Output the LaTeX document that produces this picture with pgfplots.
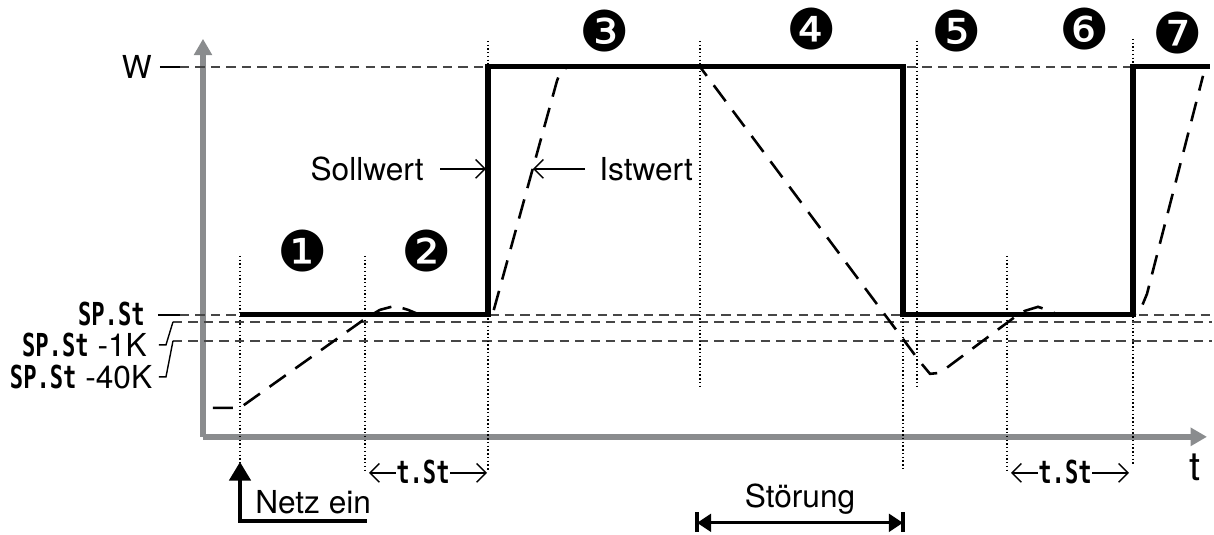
\documentclass[border=0pt]{standalone}
\usepackage{pgfplots}
\pgfplotsset{compat=1.18}
\usepackage{fontspec}
\setmainfont{TeX Gyre Heros}
\newfontfamily\dingfont{DejaVu Sans}
\newfontfamily\segfont{DejaVu Sans Mono}[FakeStretch=0.7]
\usetikzlibrary{arrows.meta}

\definecolor{axgray}{RGB}{138,140,142}
\definecolor{refgray}{RGB}{70,70,70}

\tikzset{
    lbl/.style={font=\fontsize{13.5}{16}\selectfont},
    seg/.style={font=\fontsize{13.5}{16}\selectfont},
    num/.style={font=\dingfont\fontsize{24}{26}\selectfont},
    dotv/.style={black, line width=0.5pt, dash pattern=on 0.6pt off 1pt},
    refl/.style={refgray, line width=0.75pt, dash pattern=on 4pt off 2.6pt},
    barb/.style={line width=0.6pt, -{Straight Barb[length=4pt,width=8pt]}},
}

\begin{document}
\begin{tikzpicture}
\begin{axis}[
    scale only axis, width=15.06cm, height=5.97cm,
    xmin=203, xmax=1207, ymin=98, ymax=496,
    axis lines*=left, ticks=none, clip=false,
    axis line style={axgray, line width=2.6pt, -{Triangle[length=7pt,width=7.5pt]}},
    every axis plot/.append style={mark=none},
]
% page size
\path (0,0) rectangle (1214,534);

% reference levels W, SP.St, SP.St-1K, SP.St-40K
\addplot[refl] coordinates {(180,468) (1133,468)};
\addplot[refl] coordinates {(180,220) (1212,220)};
\addplot[refl] coordinates {(173,213) (1212,213)};
\addplot[refl] coordinates {(173,194) (1212,194)};
% leaders
\addplot[black, line width=0.6pt] coordinates {(160,468) (180,468)};
\addplot[black, line width=0.6pt] coordinates {(158,220) (180,220)};
\addplot[black, line width=0.6pt] coordinates {(159,190) (166,190) (173,213)};
\addplot[black, line width=0.6pt] coordinates {(159,158) (166,158) (173,194)};

% phase boundaries
\addplot[dotv] coordinates {(240,279) (240,64)};
\addplot[dotv] coordinates {(365,279) (365,64)};
\addplot[dotv] coordinates {(488,494) (488,64)};
\addplot[dotv] coordinates {(700,494) (700,149)};
\addplot[dotv] coordinates {(903,468) (903,64)};
\addplot[dotv] coordinates {(917,494) (917,149)};
\addplot[dotv] coordinates {(1007,279) (1007,64)};
\addplot[dotv] coordinates {(1133,496) (1133,69)};

% Istwert
\addplot[black, line width=1.1pt, dash pattern=on 8.5pt off 5pt] coordinates {
    (213,127) (240,127) (365,216) (380,225) (395,229) (408,225) (420,220)
    (488,220) (493,222) (557,454) (560,462) (566,467) (575,468) (700,468)
    (920,173) (930,161) (940,162) (1015,218) (1025,224) (1038,228)
    (1050,224) (1058,220) (1133,220) (1140,224) (1147,241) (1203,459)
};
% Sollwert
\addplot[black, line width=2.2pt, line join=miter] coordinates {
    (240,220) (488,220) (488,468) (903,468) (903,220) (1133,220) (1133,468) (1210,468)
};

% labels on the left
\node[lbl, anchor=east] at (160,468) {W};
\node[seg, anchor=east] at (153,221) {\segfont\bfseries SP.St};
\node[seg, anchor=east] at (155,190) {{\segfont\bfseries SP.St} -1K};
\node[seg, anchor=east, inner xsep=1pt] at (155,158) {{\segfont\bfseries SP.St} -40K};
\node[font=\fontsize{17}{18}\selectfont] at (1195,67) {t};

% Sollwert / Istwert
\node[lbl, anchor=east] at (432,366) {Sollwert};
\draw[barb] (440,366) -- (486,366);
\node[lbl, anchor=west] at (591,366) {Istwert};
\draw[barb] (585,366) -- (533,366);

% phases
\node[num] at (303,284) {❶};
\node[num] at (427,284) {❷};
\node[num] at (605,504) {❸};
\node[num] at (812,506) {❹};
\node[num] at (957,504) {❺};
\node[num] at (1085,506) {❻};
\node[num] at (1178,502) {❼};

% t.St
\draw[barb] (396,62) -- (369,62);
\node[seg] at (423,63) {\segfont\bfseries t.St};
\draw[barb] (450,62) -- (487,62);
\draw[barb] (1038,62) -- (1011,62);
\draw[barb] (1092,62) -- (1129,62);
\node[seg] at (1065,63) {\segfont\bfseries t.St};

% Netz ein
\draw[line width=1.8pt, line join=miter, -{Triangle[length=8pt,width=9pt]}] (367,14) -- (240,14) -- (240,73);
\node[lbl, anchor=base west] at (247,21) {Netz ein};

% Stoerung
\draw[line width=1.4pt, {Triangle[length=6pt,width=7.5pt]}-{Triangle[length=6pt,width=7.5pt]}] (697,12) -- (903,12);
\draw[line width=1.4pt] (697,3) -- (697,23);
\draw[line width=1.4pt] (903,3) -- (903,23);
\node[lbl, anchor=base] at (800,27) {Störung};
\end{axis}
\end{tikzpicture}
\end{document}
